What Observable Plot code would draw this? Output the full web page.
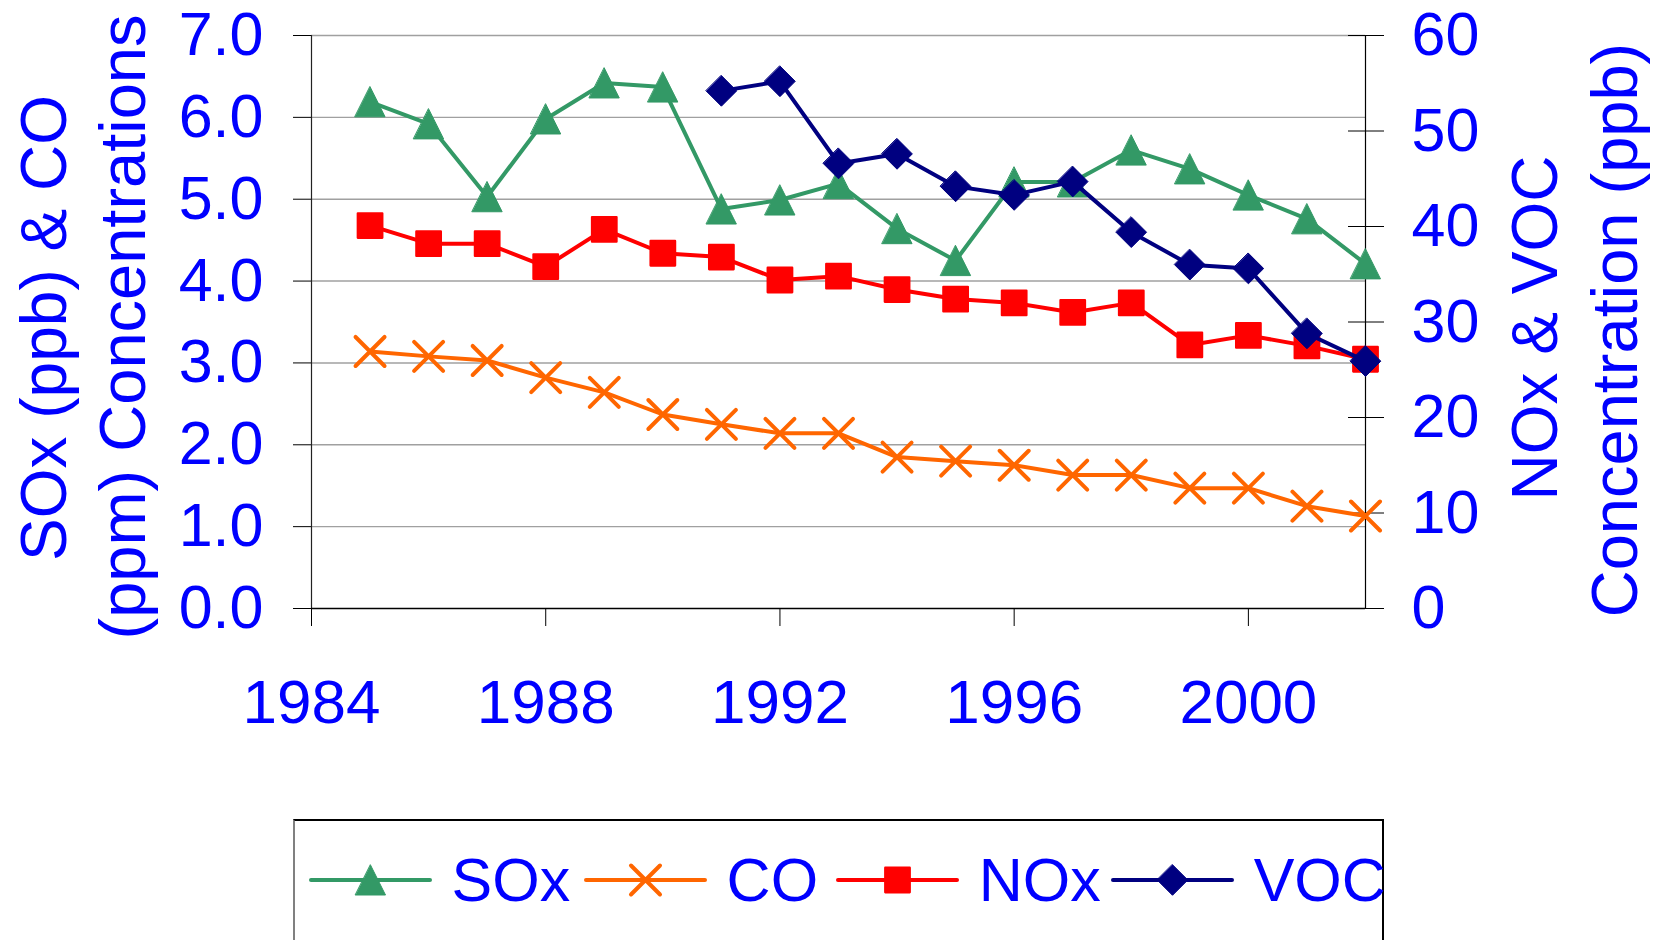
<!DOCTYPE html>
<html><head><meta charset="utf-8">
<script src="https://cdn.jsdelivr.net/npm/d3@7"></script>
<script src="https://cdn.jsdelivr.net/npm/@observablehq/plot@0.6"></script>
<style>
html,body{margin:0;padding:0;background:#fff;overflow:hidden;}
body{width:1661px;height:940px;position:relative;font-family:"Liberation Sans",Arial,sans-serif;}
#legend{position:absolute;left:293px;top:819px;width:1091px;height:140px;border:2px solid #000;border-left-color:#808080;border-bottom:none;box-sizing:border-box;}
.item{position:absolute;top:29px;height:60px;display:flex;align-items:center;}
.item span{font-size:61px;color:#0000ff;margin-left:20px;line-height:1;white-space:nowrap;}
.item svg{display:block;overflow:visible;}
</style></head><body>
<div id="chart"></div>
<div id="legend"></div>
<script>
// ---- data ----
const years = [1985,1986,1987,1988,1989,1990,1991,1992,1993,1994,1995,1996,1997,1998,1999,2000,2001,2002];
const sox = [6.19,5.92,5.03,5.98,6.42,6.37,4.88,4.99,5.19,4.64,4.25,5.21,5.21,5.60,5.37,5.05,4.76,4.21];
const co  = [3.14,3.08,3.03,2.82,2.64,2.37,2.25,2.14,2.14,1.85,1.80,1.75,1.63,1.63,1.47,1.47,1.25,1.13];
const nox = [40.1,38.2,38.2,35.8,39.7,37.2,36.8,34.4,34.8,33.4,32.4,32.0,31.0,32.0,27.6,28.6,27.5,26.1];
const vocYears = [1991,1992,1993,1994,1995,1996,1997,1998,1999,2000,2001,2002];
const voc = [54.2,55.2,46.6,47.6,44.2,43.3,44.7,39.4,36.0,35.6,28.8,25.9];
const leftTicks = [0,1,2,3,4,5,6,7];
const rightTicks = [0,10,20,30,40,50,60];
const xTicks = [1984,1988,1992,1996,2000];
const seriesNames = ["SOx","CO","NOx","VOC"];
const leftTitle = ["SOx (ppb) & CO","(ppm) Concentrations"];
const rightTitle = ["NOx & VOC","Concentration (ppb)"];

// ---- helpers ----
const k = 7/60; // right-axis units -> left-axis units
const BLUE = "#0000ff";
const colors = {SOx:"#339966", CO:"#ff6600", NOx:"#ff0000", VOC:"#000080"};
const rad = s => Math.sqrt(s/Math.PI);
const symTri = {draw(c,s){const r=rad(s);c.moveTo(0,-r);c.lineTo(r,r);c.lineTo(-r,r);c.closePath();}};
const symSq = {draw(c,s){const r=rad(s);c.moveTo(-r,-r);c.lineTo(r,-r);c.lineTo(r,r);c.lineTo(-r,r);c.closePath();}};
const symDia = {draw(c,s){const r=rad(s);c.moveTo(0,-r);c.lineTo(r,0);c.lineTo(0,r);c.lineTo(-r,0);c.closePath();}};
const symX = {draw(c,s){const r=rad(s);c.moveTo(-r,-r);c.lineTo(r,r);c.moveTo(-r,r);c.lineTo(r,-r);}};

const soxData = years.map((y,i)=>({year:y, v:sox[i]}));
const coData = years.map((y,i)=>({year:y, v:co[i]}));
const noxData = years.map((y,i)=>({year:y, v:nox[i]*k}));
const vocData = vocYears.map((y,i)=>({year:y, v:voc[i]*k}));

const specs = [
  {name:"SOx", data:soxData, sym:symTri, r:15, fill:colors.SOx, stroke:colors.SOx, sw:1},
  {name:"CO", data:coData, sym:symX, r:14.5, fill:"none", stroke:colors.CO, sw:4},
  {name:"NOx", data:noxData, sym:symSq, r:12.3, fill:colors.NOx, stroke:colors.NOx, sw:2.2},
  {name:"VOC", data:vocData, sym:symDia, r:15.3, fill:colors.VOC, stroke:colors.VOC, sw:1}
];

const seriesMarks = specs.flatMap(s => [
  Plot.line(s.data, {x:"year", y:"v", stroke:colors[s.name], strokeWidth:4, strokeLinejoin:"round", strokeLinecap:"round"}),
  Plot.dot(s.data, {x:"year", y:"v", symbol:s.sym, r:s.r, fill:s.fill, stroke:s.stroke, strokeWidth:s.sw, strokeLinejoin:"round", strokeLinecap:"round"})
]);

const chart = Plot.plot({
  width:1661, height:819,
  marginLeft:311, marginRight:296, marginTop:35, marginBottom:211,
  x:{domain:[1984,2002]},
  y:{domain:[0,7]},
  style:{fontFamily:"'Liberation Sans', Arial, sans-serif", background:"#fff", overflow:"visible"},
  marks:[
    Plot.gridY(leftTicks.slice(1), {stroke:"#a0a0a0", strokeOpacity:1, strokeWidth:1.4}),
    Plot.ruleX([1984], {stroke:"#222", strokeWidth:1.2}),
    Plot.ruleX([2002], {stroke:"#000", strokeWidth:1.2}),
    Plot.ruleY([0], {stroke:"#000", strokeWidth:1.4}),
    Plot.axisY({anchor:"left", ticks:leftTicks, tickSize:18, tickPadding:30, tickFormat:d3.format(".1f"), fontSize:61, color:BLUE, stroke:"#000", label:null}),
    Plot.axisY({anchor:"right", ticks:rightTicks.map(d=>d*k), tickSize:18, tickPadding:28, tickFormat:d=>String(Math.round(d/k)), fontSize:61, color:BLUE, stroke:"#000", label:null}),
    Plot.axisY({anchor:"right", ticks:rightTicks.map(d=>d*k), tickSize:18, dx:-18, tickFormat:()=>"", stroke:"#000", label:null}),
    Plot.axisX({anchor:"bottom", ticks:xTicks, tickSize:18, tickPadding:52, tickFormat:d3.format("d"), fontSize:62, color:BLUE, stroke:"#000", label:null}),
    ...seriesMarks,
    Plot.text([leftTitle[0]], {text:d=>d, frameAnchor:"left", textAnchor:"middle", rotate:-90, dx:-266, dy:6, fontSize:64, fill:BLUE}),
    Plot.text([leftTitle[1]], {text:d=>d, frameAnchor:"left", textAnchor:"middle", rotate:-90, dx:-187.5, dy:5, fontSize:65, fill:BLUE}),
    Plot.text([rightTitle[0]], {text:d=>d, frameAnchor:"right", textAnchor:"middle", rotate:-90, dx:171, dy:6, fontSize:64, fill:BLUE}),
    Plot.text([rightTitle[1]], {text:d=>d, frameAnchor:"right", textAnchor:"middle", rotate:-90, dx:251, dy:8, fontSize:65, fill:BLUE})
  ]
});
document.getElementById("chart").appendChild(chart);

// ---- legend ----
const legend = document.getElementById("legend");
const itemLefts = [13.6, 288.6, 540.7, 815.7];
specs.forEach((s,i) => {
  const item = document.createElement("div");
  item.className = "item";
  item.style.left = itemLefts[i] + "px";
  const W = 123, H = 40;
  const path = d3.symbol(s.sym, Math.PI*s.r*s.r)();
  item.innerHTML = `<svg width="${W}" height="${H}">
    <line x1="2" x2="${W-2}" y1="${H/2}" y2="${H/2}" stroke="${colors[s.name]}" stroke-width="4" stroke-linecap="round"/>
    <path d="${path}" transform="translate(${W/2},${H/2})" fill="${s.fill}" stroke="${s.stroke}" stroke-width="${s.sw}" stroke-linejoin="round" stroke-linecap="round"/>
  </svg><span>${seriesNames[i]}</span>`;
  legend.appendChild(item);
});
</script>
</body></html>
